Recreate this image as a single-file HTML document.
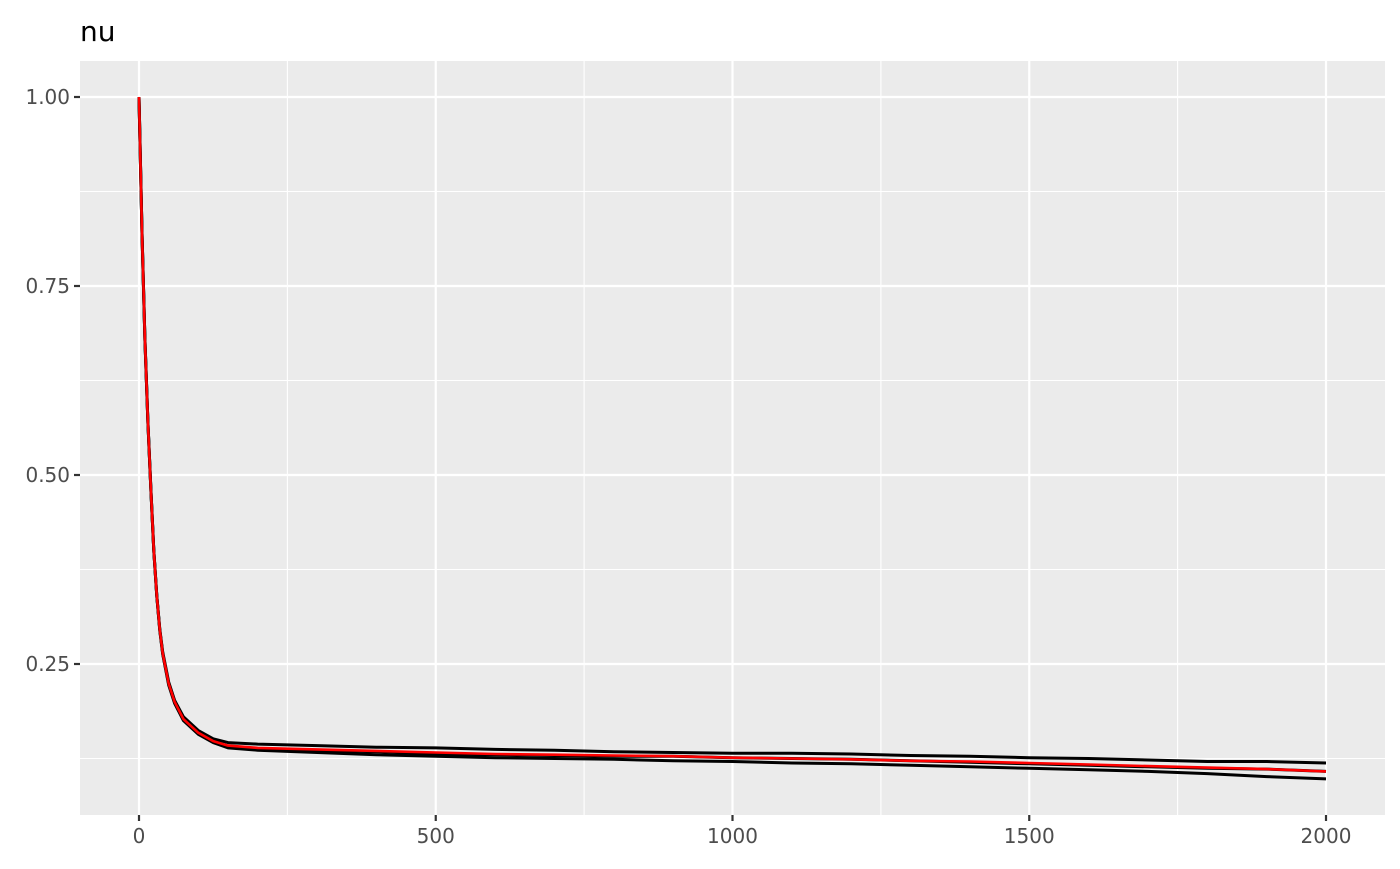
<!DOCTYPE html>
<html><head><meta charset="utf-8"><style>
body{margin:0;background:#fff;font-family:"DejaVu Sans","Liberation Sans",sans-serif}
</style></head><body>
<svg id="chart" width="1400" height="865" xmlns="http://www.w3.org/2000/svg">
<text x="80" y="41" font-size="28" fill="#000" font-family="DejaVu Sans, Liberation Sans, sans-serif">nu</text>
<rect x="80" y="61" width="1305" height="754" fill="#ebebeb"/>
<g id="grid"></g><g id="series"></g><g id="axes"></g>
</svg>
<script>
const iters=[0,5,10,15,20,25,30,35,40,50,60,75,100,125,150,200,300,400,500,600,700,800,900,1000,1100,1200,1300,1400,1500,1600,1700,1800,1900,2000];
const chainA=[1.0,0.82,0.68,0.57,0.48,0.40,0.34,0.296,0.266,0.226,0.202,0.180,0.162,0.151,0.146,0.144,0.142,0.140,0.139,0.137,0.136,0.134,0.133,0.132,0.132,0.131,0.129,0.128,0.126,0.125,0.123,0.121,0.121,0.119];
const chainB=[1.0,0.82,0.68,0.57,0.48,0.40,0.34,0.295,0.264,0.224,0.200,0.177,0.159,0.148,0.141,0.138,0.136,0.134,0.131,0.130,0.129,0.128,0.128,0.126,0.125,0.124,0.122,0.120,0.118,0.116,0.114,0.112,0.111,0.108];
const chainC=[1.0,0.82,0.68,0.57,0.48,0.40,0.34,0.294,0.263,0.222,0.198,0.175,0.157,0.146,0.139,0.136,0.133,0.130,0.128,0.126,0.125,0.124,0.122,0.121,0.119,0.118,0.116,0.114,0.112,0.110,0.108,0.105,0.101,0.098];
const meanChain=[1.0,0.82,0.68,0.57,0.48,0.40,0.34,0.295,0.264,0.224,0.200,0.177,0.159,0.148,0.142,0.139,0.137,0.135,0.133,0.131,0.130,0.129,0.128,0.126,0.125,0.124,0.122,0.121,0.119,0.117,0.115,0.113,0.111,0.108];
const xTicks=[0,500,1000,1500,2000];
const xMinor=[250,750,1250,1750];
const yTicks=[0.25,0.5,0.75,1.0];
const yTickLabels=["0.25","0.50","0.75","1.00"];
const yMinor=[0.125,0.375,0.625,0.875];
const X=v=>139+v*(1326-139)/2000;
const Y=v=>97+(1-v)*(664-97)/0.75;
const NS="http://www.w3.org/2000/svg";
function mk(parent,tag,attrs){const e=document.createElementNS(NS,tag);for(const k in attrs)e.setAttribute(k,attrs[k]);document.getElementById(parent).appendChild(e);return e;}
xMinor.forEach(v=>{const e=mk('grid','line',{x1:X(v),x2:X(v),y1:61,y2:815,stroke:'#fff','stroke-width':1.1});

});
yMinor.forEach(v=>{const e=mk('grid','line',{x1:80,x2:1385,y1:Y(v),y2:Y(v),stroke:'#fff','stroke-width':1.1});

});
xTicks.forEach(v=>{const e=mk('grid','line',{x1:X(v),x2:X(v),y1:61,y2:815,stroke:'#fff','stroke-width':2.2});


const t=mk('axes','line',{x1:X(v),x2:X(v),y1:815,y2:821,stroke:'#333','stroke-width':2.2});


const l=mk('axes','text',{x:X(v),y:843,'text-anchor':'middle','font-size':20,fill:'#4d4d4d'});l.textContent=v;

});
yTicks.forEach((v,i)=>{const e=mk('grid','line',{x1:80,x2:1385,y1:Y(v),y2:Y(v),stroke:'#fff','stroke-width':2.2});


const t=mk('axes','line',{x1:74,x2:80,y1:Y(v),y2:Y(v),stroke:'#333','stroke-width':2.2});


const l=mk('axes','text',{x:70,y:Y(v)+7,'text-anchor':'end','font-size':20,fill:'#4d4d4d'});l.textContent=yTickLabels[i];

});
function path(vals){return vals.map((v,i)=>(i?'L':'M')+X(iters[i]).toFixed(1)+','+Y(v).toFixed(1)).join('');}
[[chainA,'chain-1-line'],[chainB,'chain-2-line'],[chainC,'chain-3-line']].forEach(([d,n])=>{
const p=mk('series','path',{d:path(d),fill:'none',stroke:'#000','stroke-width':3,'stroke-linejoin':'round'});

});
const m=mk('series','path',{d:path(meanChain),fill:'none',stroke:'#ff0000','stroke-width':2.6,'stroke-linejoin':'round'});


</script>
</body></html>
